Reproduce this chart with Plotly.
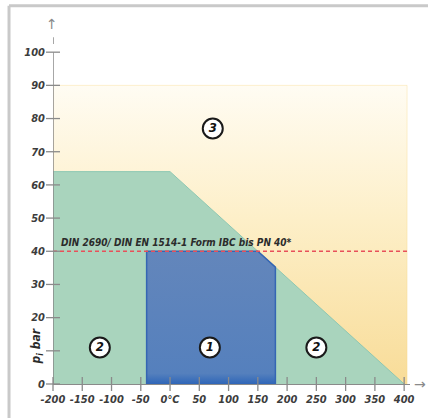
import plotly.graph_objects as go

# Operating range diagram: internal pressure p_i (bar) over temperature (°C)
zone3_x = [-200, -200, 405, 405]          # outer envelope (zone 3)
zone3_y = [0, 90, 90, 0]
zone2_x = [-200, -200, 0, 400]            # zone 2 envelope
zone2_y = [0, 64, 64, 0]
zone1_x = [-40, -40, 150, 180, 180]       # zone 1 envelope
zone1_y = [0, 40, 40, 35.2, 0]

pn_limit = 40
pn_label = "DIN 2690/ DIN EN 1514-1 Form IBC bis PN 40*"

marker_x = [73, -120, 68, 250]
marker_y = [77, 11, 11, 11]
marker_txt = ["3", "2", "1", "2"]

x_ticks = [-200, -150, -100, -50, 0, 50, 100, 150, 200, 250, 300, 350, 400]
x_ticktext = ["-200", "-150", "-100", "-50", "0°C", "50", "100", "150", "200",
              "250", "300", "350", "400"]
y_ticks = [0, 10, 20, 30, 40, 50, 60, 70, 80, 90, 100]
y_ticktext = ["0", "", "20", "30", "40", "50", "60", "70", "80", "90", "100"]

NARROW = "DejaVu Sans Condensed, Liberation Sans Narrow, sans-serif"
AXIS_GREY = "#8a8a8a"
LABEL_GREY = "#3c3c3c"

fig = go.Figure()

fig.add_trace(go.Scatter(
    x=zone3_x, y=zone3_y, mode="lines", fill="toself",
    line=dict(color="rgba(245,214,130,0.35)", width=1),
    fillgradient=dict(type="vertical",
                      colorscale=[[0, "#f8dc98"], [0.55, "#fdefc8"], [1, "#fffcf3"]]),
    hoverinfo="skip", showlegend=False))

fig.add_trace(go.Scatter(
    x=zone2_x, y=zone2_y, mode="lines", fill="toself",
    fillcolor="#a9d4bd", line=dict(color="#8cc7b3", width=1),
    hoverinfo="skip", showlegend=False))

fig.add_trace(go.Scatter(
    x=zone1_x, y=zone1_y, mode="lines", fill="toself",
    line=dict(color="#3566b3", width=1.5),
    fillgradient=dict(type="vertical",
                      colorscale=[[0, "#2f66b8"], [0.08, "#5580bd"], [1, "#6386bb"]]),
    hoverinfo="skip", showlegend=False))

# PN 40 limit line
fig.add_trace(go.Scatter(
    x=[zone3_x[0], zone3_x[-1]], y=[pn_limit, pn_limit], mode="lines",
    line=dict(color="#e8505a", width=1.4, dash="4px,3px"),
    hoverinfo="skip", showlegend=False))

# y axis line, its break and the axis tick marks
fig.add_trace(go.Scatter(
    x=[-200, -200, None, -200, -200], y=[0, 100, None, 102.5, 104.5], mode="lines",
    line=dict(color=AXIS_GREY, width=1.5), cliponaxis=False,
    hoverinfo="skip", showlegend=False))
fig.add_trace(go.Scatter(
    x=x_ticks, y=[0] * len(x_ticks), mode="markers", cliponaxis=False,
    marker=dict(symbol="line-ns", size=10, line=dict(color=AXIS_GREY, width=1.3)),
    hoverinfo="skip", showlegend=False))
fig.add_trace(go.Scatter(
    x=[-200] * len(y_ticks), y=y_ticks, mode="markers", cliponaxis=False,
    marker=dict(symbol="line-ew", size=10, line=dict(color=AXIS_GREY, width=1.3)),
    hoverinfo="skip", showlegend=False))

# zone markers
fig.add_trace(go.Scatter(
    x=marker_x, y=marker_y, mode="markers+text",
    marker=dict(size=20, color="white", line=dict(color="#1a1a1a", width=2)),
    text=marker_txt, textposition="middle center",
    textfont=dict(family=NARROW, size=13, color="#111111", weight="bold", style="italic"),
    hoverinfo="skip", showlegend=False))

# frame
fig.add_shape(type="line", xref="paper", yref="paper", x0=-0.1232, x1=-0.1232,
              y0=-0.2, y1=1.036, line=dict(color="#c9c9c9", width=3))
fig.add_shape(type="line", xref="paper", yref="paper", x0=-0.1232, x1=1.2,
              y0=1.036, y1=1.036, line=dict(color="#c9c9c9", width=3))

fig.add_annotation(x=-0.002, y=0.985, xref="paper", yref="paper", text="↑",
                   showarrow=False, font=dict(family="DejaVu Sans", size=14, color=AXIS_GREY),
                   xanchor="center", yanchor="middle")
fig.add_annotation(x=1.027, y=0.0, xref="paper", yref="paper", text="→",
                   showarrow=False, font=dict(family="DejaVu Sans", size=14, color=AXIS_GREY),
                   xanchor="center", yanchor="middle")

fig.add_annotation(x=-189, y=pn_limit, xref="x", yref="y", text=pn_label,
                   showarrow=False, xanchor="left", yanchor="bottom", yshift=1,
                   font=dict(family=NARROW, size=10, color="#2b2b2b",
                             weight="bold", style="italic"))

fig.add_annotation(x=-0.045, y=11.3, xref="paper", yref="y", text="p<sub>i</sub> bar",
                   textangle=-90, showarrow=False, xanchor="center", yanchor="middle",
                   font=dict(family=NARROW, size=12, color="#2b2b2b",
                             weight="bold", style="italic"))

fig.update_layout(
    width=428, height=418,
    margin=dict(l=53, r=18, t=19, b=29),
    paper_bgcolor="white", plot_bgcolor="white",
    xaxis=dict(range=[-200, 410], tickmode="array", tickvals=x_ticks,
               ticktext=x_ticktext, ticks="", showgrid=False, zeroline=False,
               showline=True, linecolor=AXIS_GREY, linewidth=1.2,
               tickangle=0, ticklabelstandoff=5,
               tickfont=dict(family=NARROW, size=11, color=LABEL_GREY,
                             weight="bold", style="italic")),
    yaxis=dict(range=[0, 110], tickmode="array", tickvals=y_ticks,
               ticktext=y_ticktext, ticks="", showgrid=False, zeroline=False,
               showline=False, ticklabelstandoff=7,
               tickfont=dict(family=NARROW, size=11, color=LABEL_GREY,
                             weight="bold", style="italic")),
)

fig.write_html("out.html")
